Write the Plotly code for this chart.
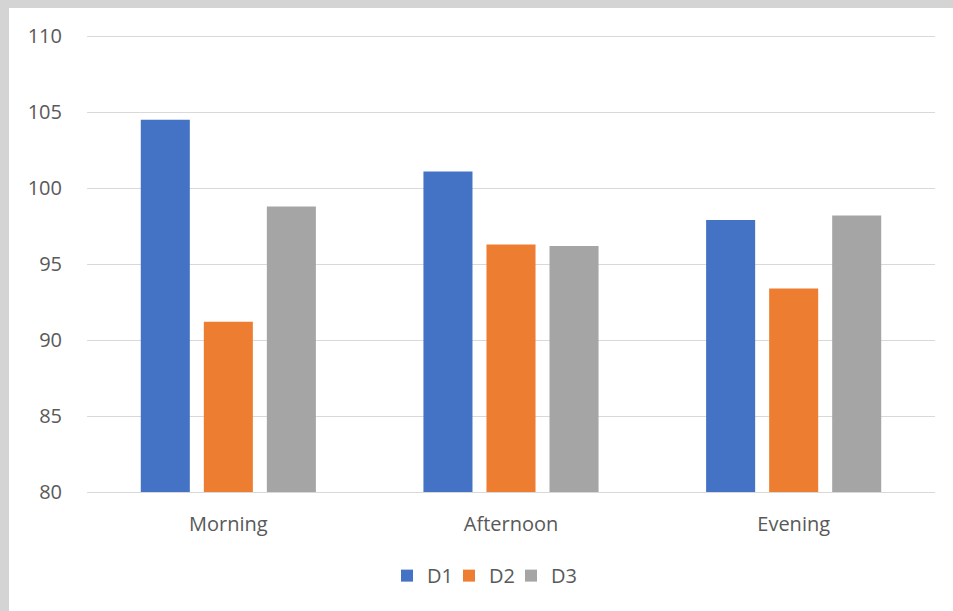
import plotly.graph_objects as go

categories = ["Morning", "Afternoon", "Evening"]
d1 = [104.5, 101.1, 97.9]
d2 = [91.2, 96.3, 93.4]
d3 = [98.8, 96.2, 98.2]

series = [("D1", d1, "#4472C4"), ("D2", d2, "#ED7D31"), ("D3", d3, "#A5A5A5")]
legend_ids = ["legend", "legend2", "legend3"]

W, H = 953, 611
ml, mr, mt, mb = 87, 18, 34, 119
pw, ph = W - ml - mr, H - mt - mb

def px_x(p):
    return (p - ml) / pw

def px_y(p):
    return (H - mb - p) / ph

fig = go.Figure()
for (name, vals, color), lg in zip(series, legend_ids):
    fig.add_trace(go.Bar(x=categories, y=vals, name=name, marker_color=color,
                         marker_line_width=0, legend=lg))

# one compact legend box per series, laid out in a row under the axis
legend_left_px = [387, 449, 511]
legend_style = dict(font=dict(size=20, color="#595959"), bgcolor="rgba(0,0,0,0)",
                    xanchor="left", yanchor="top", y=-0.14, itemwidth=30)
for lg, lx in zip(legend_ids, legend_left_px):
    fig.update_layout({lg: dict(legend_style, x=px_x(lx))})

fig.update_layout(
    width=W, height=H,
    margin=dict(l=ml, r=mr, t=mt, b=mb),
    paper_bgcolor="#d4d4d4",
    plot_bgcolor="rgba(0,0,0,0)",
    barmode="group",
    bargap=0.331,
    bargroupgap=0.222,
    font=dict(family="Open Sans", size=20, color="#595959"),
    showlegend=True,
    shapes=[dict(type="rect", xref="paper", yref="paper",
                 x0=px_x(9), x1=px_x(W + 5), y0=px_y(H + 5), y1=px_y(8),
                 fillcolor="white", line_width=0, layer="below")],
    yaxis=dict(range=[80, 110.15], tick0=80, dtick=5, showgrid=True,
               gridcolor="#d9d9d9", gridwidth=1.3, zeroline=False,
               showline=False, ticks="", ticklabelstandoff=24,
               tickfont=dict(size=20, color="#595959")),
    xaxis=dict(showline=True, linecolor="#d9d9d9", linewidth=1.3, ticks="",
               tickfont=dict(size=20, color="#595959"), ticklabelstandoff=14),
)

fig.write_html("out.html")
